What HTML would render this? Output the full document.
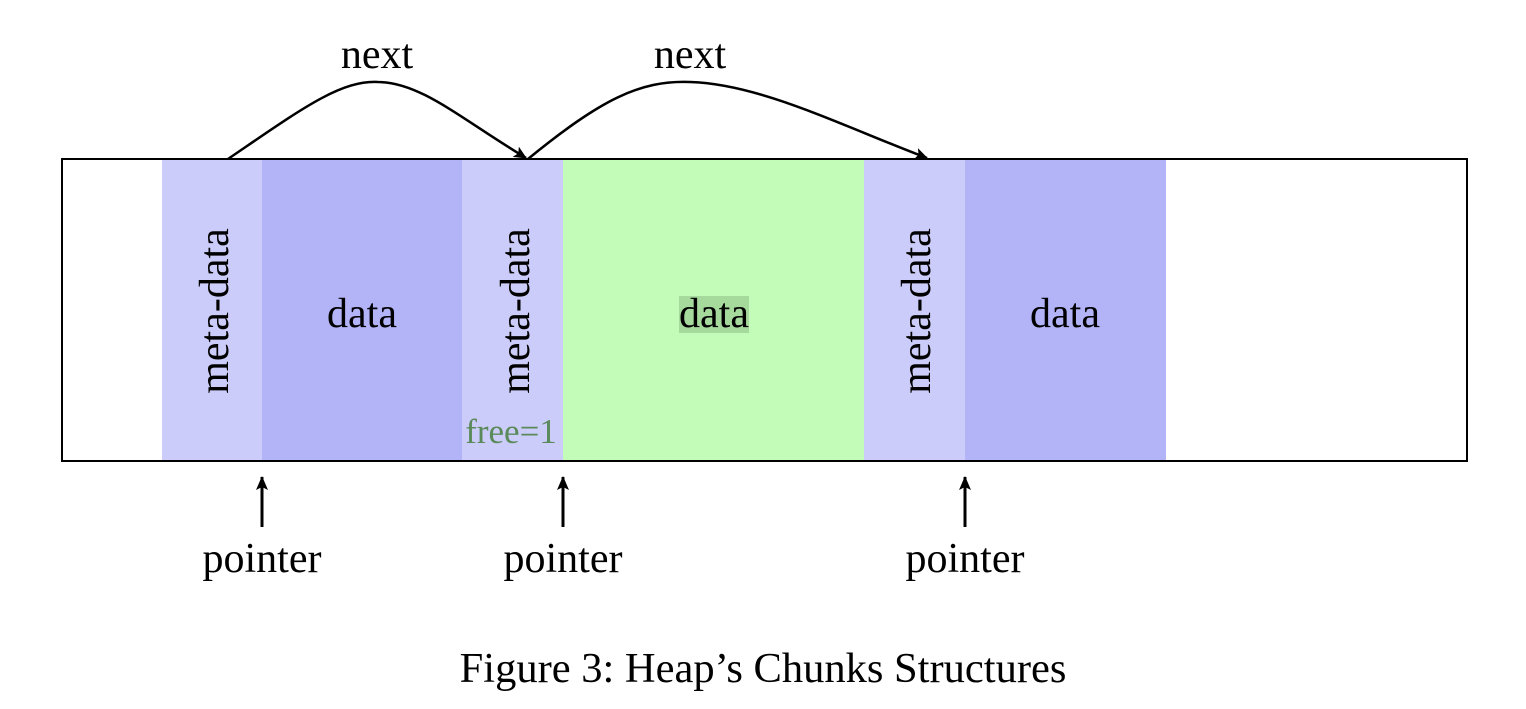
<!DOCTYPE html>
<html><head><style>body{margin:0;background:#fff}</style></head><body>
<svg width="1526" height="704" xmlns="http://www.w3.org/2000/svg" font-family="Liberation Serif, serif">
<defs><marker id="a" markerWidth="14" markerHeight="14" refX="13" refY="7" orient="auto" markerUnits="userSpaceOnUse"><path d="M0,1 L14,7 L0,13 L3,7 z" fill="#000"/></marker>
<marker id="b" markerWidth="14" markerHeight="14" refX="12" refY="7" orient="auto" markerUnits="userSpaceOnUse"><path d="M0,1 L13,7 L0,13 L3,7 z" fill="#000"/></marker></defs>
<rect x="162" y="160" width="100" height="301" fill="#ccccfa"/>
<rect x="262" y="160" width="200" height="301" fill="#b3b3f7"/>
<rect x="462" y="160" width="101" height="301" fill="#ccccfa"/>
<rect x="563" y="160" width="301" height="301" fill="#c3fbb9"/>
<rect x="864" y="160" width="101" height="301" fill="#ccccfa"/>
<rect x="965" y="160" width="201" height="301" fill="#b3b3f7"/>
<rect x="62" y="159" width="1405" height="302" fill="none" stroke="#000" stroke-width="2"/>
<rect x="679" y="296" width="70" height="37" fill="#a6d99c"/>
<g font-size="42" text-anchor="middle">
<text x="362" y="327">data</text>
<text x="714" y="327">data</text>
<text x="1065" y="327">data</text>
<text transform="translate(228,311) rotate(-90)">meta-data</text>
<text transform="translate(529,311) rotate(-90)">meta-data</text>
<text transform="translate(930,311) rotate(-90)">meta-data</text>
<text x="377" y="68">next</text>
<text x="690" y="68">next</text>
<text x="262" y="572">pointer</text>
<text x="563" y="572">pointer</text>
<text x="965" y="572">pointer</text>
<text x="763" y="682" font-size="42.5">Figure 3: Heap’s Chunks Structures</text>
</g>
<text x="511" y="443" font-size="35" fill="#5a8a5a" text-anchor="middle">free=1</text>
<path d="M228,159 C300,110 340,80 378,82 C420,82 460,118 526,158" fill="none" stroke="#000" stroke-width="2.5" marker-end="url(#b)"/>
<path d="M528,159 C600,100 640,80 690,82 C760,84 840,125 927,158" fill="none" stroke="#000" stroke-width="2.5" marker-end="url(#b)"/>
<g stroke="#000" stroke-width="3" marker-end="url(#a)">
<line x1="262" y1="527" x2="262" y2="477"/>
<line x1="563" y1="527" x2="563" y2="477"/>
<line x1="965" y1="527" x2="965" y2="477"/>
</g>
</svg>
</body></html>
